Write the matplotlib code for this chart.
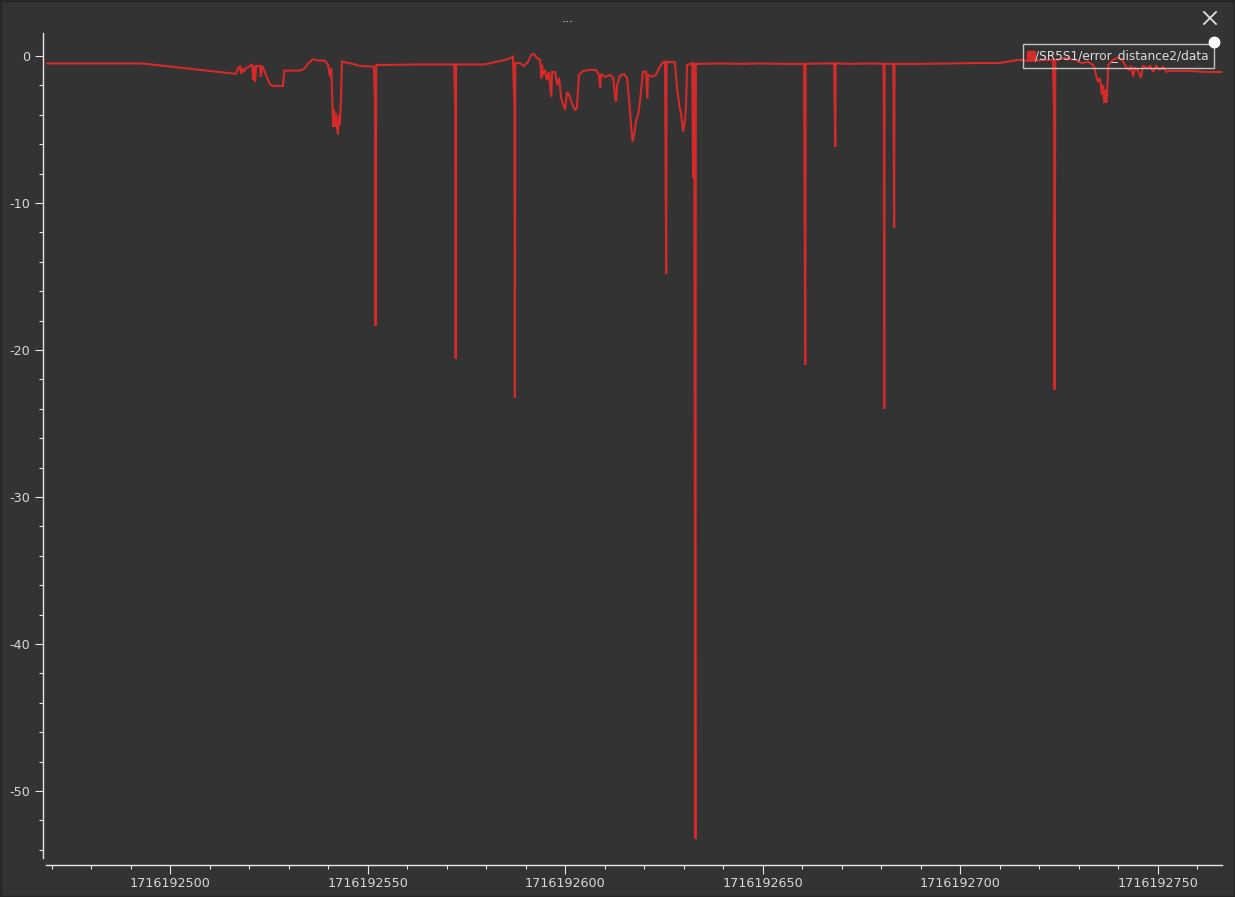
import numpy as np
import matplotlib
matplotlib.use("Agg")
import matplotlib.pyplot as plt
from matplotlib.ticker import MultipleLocator, FuncFormatter
from matplotlib.lines import Line2D
from matplotlib.patches import Rectangle

# timestamps are stored as seconds after T0
T0 = 1716192400
series_name = "/SR5S1/error_distance2/data"

t_rel = [
    68.6, 92.9, 116.7, 117.2, 117.7, 118.0, 118.2, 118.7, 119.2, 120.0,
    120.8, 121.0, 121.3, 121.5, 121.8, 122.8, 123.0, 123.3, 123.8, 124.6,
    125.3, 126.1, 128.6, 128.9, 132.9, 133.9, 134.9, 136.2, 137.5, 139.2,
    140.0, 140.5, 140.8, 141.0, 141.3, 141.5, 141.8, 142.0, 142.3, 142.5,
    142.8, 143.0, 143.3, 143.5, 145.6, 148.1, 151.6, 151.9, 152.0, 152.2,
    155.7, 163.3, 171.9, 172.2, 172.3, 172.4, 179.7, 182.3, 184.8, 186.1,
    186.8, 187.2, 187.3, 187.4, 188.6, 189.6, 190.6, 191.4, 192.2, 192.9,
    193.7, 194.0, 194.2, 194.4, 194.9, 195.4, 195.9, 196.5, 196.7, 197.5,
    198.0, 198.5, 199.0, 199.5, 200.0, 200.5, 201.0, 201.8, 202.5, 203.0,
    203.5, 204.6, 206.3, 207.8, 208.6, 208.9, 209.1, 210.1, 211.4, 212.2,
    212.7, 212.9, 213.2, 213.9, 214.9, 215.7, 216.2, 216.7, 217.1, 217.5,
    218.0, 218.5, 219.0, 219.5, 219.7, 220.5, 220.8, 221.0, 222.0, 223.0,
    223.8, 224.6, 225.3, 225.6, 225.7, 227.8, 228.4, 228.9, 229.4, 229.9,
    230.4, 230.6, 230.9, 232.2, 232.4, 232.5, 232.7, 233.0, 233.1, 234.2,
    239.2, 244.3, 249.4, 254.4, 260.5, 260.8, 260.9, 264.6, 268.1, 268.4,
    268.5, 272.2, 277.2, 280.6, 280.7, 280.8, 280.9, 283.1, 283.3, 283.4,
    289.9, 297.5, 305.1, 310.1, 314.7, 317.7, 321.5, 323.5, 323.8, 323.9,
    324.1, 326.6, 329.1, 330.9, 332.4, 333.9, 334.4, 334.9, 335.4, 335.9,
    336.2, 336.5, 336.7, 337.0, 337.2, 337.5, 338.7, 340.0, 341.0, 342.0,
    342.8, 343.3, 343.8, 344.3, 345.1, 345.8, 346.3, 347.3, 348.1, 348.9,
    349.6, 350.6, 351.4, 352.2, 353.2, 358.2, 362.0, 366.3,
]

error_distance = [
    -0.51, -0.51, -1.22, -0.84, -0.73, -1.22, -0.82, -1.09, -0.82, -0.73,
    -0.56, -1.63, -0.68, -1.75, -0.68, -0.68, -1.41, -0.68, -0.95, -1.52,
    -1.93, -2.04, -2.04, -1.00, -1.00, -0.88, -0.54, -0.22, -0.32, -0.32,
    -0.61, -1.41, -0.82, -2.31, -4.81, -3.67, -4.81, -3.88, -4.90, -5.33,
    -4.01, -4.69, -2.65, -0.39, -0.50, -0.68, -0.73, -3.33, -18.37, -0.61,
    -0.61, -0.58, -0.58, -3.54, -20.60, -0.58, -0.58, -0.41, -0.27, -0.16,
    -0.05, -3.54, -23.27, -0.48, -0.50, -0.68, -0.41, 0.07, 0.12, -0.14,
    -0.27, -1.52, -0.61, -1.29, -0.95, -1.63, -1.09, -2.77, -1.09, -1.09,
    -1.97, -1.50, -2.88, -3.27, -3.67, -2.45, -2.65, -3.27, -3.67, -3.54,
    -1.29, -1.02, -0.95, -0.95, -1.29, -2.18, -1.22, -1.43, -1.29, -1.50,
    -2.86, -3.11, -1.97, -1.36, -1.22, -1.50, -2.99, -4.69, -5.83, -5.37,
    -4.35, -4.01, -2.99, -1.63, -1.09, -1.07, -2.88, -1.29, -1.41, -1.29,
    -0.82, -0.48, -0.39, -14.83, -0.41, -0.43, -2.31, -3.33, -4.01, -5.15,
    -4.35, -3.45, -0.61, -0.50, -8.30, -0.51, -0.54, -53.27, -0.54, -0.54,
    -0.51, -0.54, -0.51, -0.54, -0.54, -21.00, -0.54, -0.51, -0.51, -6.19,
    -0.51, -0.54, -0.51, -0.54, -3.80, -24.00, -0.54, -0.54, -11.70, -0.54,
    -0.54, -0.51, -0.48, -0.48, -0.27, -0.34, -0.27, -0.27, -3.81, -22.70,
    -0.27, -0.14, -0.27, -0.50, -0.39, -0.68, -1.29, -1.77, -1.50, -2.65,
    -1.97, -3.20, -2.31, -3.20, -2.65, -0.61, -0.27, -0.10, -0.27, -0.75,
    -0.95, -0.68, -1.41, -0.82, -1.02, -1.50, -0.68, -0.82, -0.68, -1.09,
    -0.68, -0.95, -0.75, -1.09, -1.02, -1.02, -1.09, -1.09,
]

bg = "#333333"
fg = "#e6e6e6"
red = "#d62a2a"
W, H = 1235, 897

t = T0 + np.array(t_rel)

fig = plt.figure(figsize=(W / 100, H / 100), dpi=100, facecolor=bg)
ax = fig.add_axes([46 / W, 1 - 858 / H, (1222 - 46) / W, (858 - 33) / H])
ax.set_facecolor(bg)

ax.plot(t, error_distance, color=red, linewidth=1.5, solid_joinstyle="miter")

ax.set_xlim(T0 + 68.6, T0 + 366.3)
ax.set_ylim(-54.56, 1.56)

for side in ["top", "right"]:
    ax.spines[side].set_visible(False)
ax.spines["left"].set_position(("outward", 2.2))
ax.spines["bottom"].set_position(("outward", 5))
for side in ["left", "bottom"]:
    ax.spines[side].set_color(fg)
    ax.spines[side].set_linewidth(1.0)

ax.xaxis.set_major_locator(MultipleLocator(50))
ax.xaxis.set_minor_locator(MultipleLocator(10))
ax.yaxis.set_major_locator(MultipleLocator(10))
ax.yaxis.set_minor_locator(MultipleLocator(2))
ax.xaxis.set_major_formatter(FuncFormatter(lambda v, p: f"{v:.0f}"))
ax.yaxis.set_major_formatter(FuncFormatter(lambda v, p: f"{v:.0f}"))

ax.tick_params(axis="both", which="both", direction="out", colors=fg,
               labelcolor="#d8d8d8", labelsize=9.2, width=0.8)
ax.tick_params(axis="x", which="major", length=6.5, pad=2.5)
ax.tick_params(axis="x", which="minor", length=3)
ax.tick_params(axis="y", which="major", length=6, pad=3.5)
ax.tick_params(axis="y", which="minor", length=3)

# legend box in the top right corner
handle = Line2D([], [], marker="s", linestyle="", color=red, markersize=5.5)
leg = ax.legend([handle], [series_name], loc="upper right",
                bbox_to_anchor=(1214 / W, 1 - 44 / H), bbox_transform=fig.transFigure,
                fontsize=8.7, frameon=True, fancybox=False, facecolor="none",
                edgecolor=fg, borderpad=0.45, handlelength=0.4, handletextpad=0.15,
                borderaxespad=0)
leg.get_frame().set_linewidth(1.0)
for txt in leg.get_texts():
    txt.set_color("#dddddd")

# window decorations
fig.text(568 / W, 1 - 18 / H, "...", ha="center", va="center", color="#dddddd", fontsize=9)
fig.add_artist(Line2D([1204 / W, 1216 / W], [1 - 12 / H, 1 - 24 / H],
                      transform=fig.transFigure, color="#e0e0e0", linewidth=1.3))
fig.add_artist(Line2D([1204 / W, 1216 / W], [1 - 24 / H, 1 - 12 / H],
                      transform=fig.transFigure, color="#e0e0e0", linewidth=1.3))
fig.add_artist(Line2D([1214 / W], [1 - 42 / H], marker="o", markersize=7.5,
                      color="white", transform=fig.transFigure))
fig.add_artist(Rectangle((0, 0), 1, 1, transform=fig.transFigure, fill=False,
                         edgecolor="#262626", linewidth=2.5))

fig.savefig("out.png", dpi=100, facecolor=bg)
